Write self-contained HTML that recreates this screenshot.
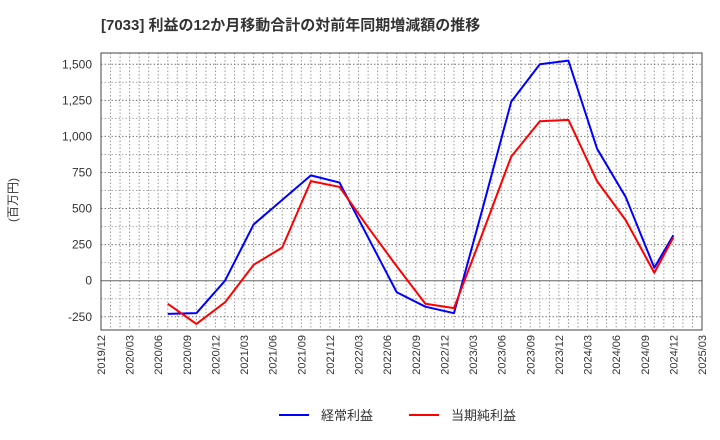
<!DOCTYPE html>
<html><head><meta charset="utf-8"><style>
body{margin:0;background:#fff;}
svg{display:block;font-family:"Liberation Sans","Noto Sans CJK JP",sans-serif;}
</style></head><body>
<svg id="c" width="720" height="440">
<text x="101" y="30" font-size="15" font-weight="bold" fill="#333">[7033]  利益の12か月移動合計の対前年同期増減額の推移</text>
<text transform="translate(17,200) rotate(-90)" text-anchor="middle" font-size="12" fill="#333">(百万円)</text>
<g id="grid"></g><g id="axes"></g><g id="series"></g>
<g>
<line x1="279" y1="415" x2="309" y2="415" stroke="#0000ff" stroke-width="2"/>
<text x="321" y="420" font-size="13" fill="#333">経常利益</text>
<line x1="409" y1="415" x2="439" y2="415" stroke="#ff0000" stroke-width="2"/>
<text x="451" y="420" font-size="13" fill="#333">当期純利益</text>
</g>
</svg>
<script>
const months=[7,10,13,16,19,22,25,28,31,34,37,40,43,46,49,52,55,58,60];
const ordinaryProfit=[-230,-225,0,390,560,730,680,300,-80,-180,-225,500,1240,1500,1525,915,580,90,315];
const netProfit=[-160,-300,-150,110,230,690,650,370,100,-160,-190,330,860,1105,1115,690,420,55,300];
const yTicks=[-250,0,250,500,750,1000,1250,1500];
const xTickLabels=["2019/12","2020/03","2020/06","2020/09","2020/12","2021/03","2021/06","2021/09","2021/12","2022/03","2022/06","2022/09","2022/12","2023/03","2023/06","2023/09","2023/12","2024/03","2024/06","2024/09","2024/12","2025/03"];
const L=101,R=702,T=53,B=330;
const X=m=>L+m*(R-L)/63;
const Y=v=>280.7-v*36.07/250;
const NS="http://www.w3.org/2000/svg";
function mk(tag,attrs,parent){const e=document.createElementNS(NS,tag);for(const k in attrs)e.setAttribute(k,attrs[k]);parent.appendChild(e);return e;}
const grid=document.getElementById('grid'),axes=document.getElementById('axes'),ser=document.getElementById('series');
for(let m=1;m<63;m++){const l=mk('line',{x1:X(m),x2:X(m),y1:T,y2:B,stroke:'#999','stroke-dasharray':'1.5,2','stroke-width':1},grid);

}
for(let v=-250;v<=1500;v+=125){if(v===0)continue;const l=mk('line',{x1:L,x2:R,y1:Y(v),y2:Y(v),stroke:v%250===0?'#777':'#aaa','stroke-dasharray':'1.5,2','stroke-width':1},grid);

}
const z=mk('line',{x1:L,x2:R,y1:Y(0),y2:Y(0),stroke:'#666','stroke-width':1},grid);


const fr=mk('rect',{x:L,y:T,width:R-L,height:B-T,fill:'none',stroke:'#444','stroke-width':1},axes);


yTicks.forEach(v=>{const t=mk('text',{x:L-9,y:Y(v)+4,'text-anchor':'end','font-size':12,fill:'#333'},axes);t.textContent=v.toLocaleString('en-US');

});
xTickLabels.forEach((s,i)=>{const x=X(i*3);const t=mk('text',{transform:`translate(${x+4},${B+5}) rotate(-90)`,'text-anchor':'end','font-size':11,fill:'#333'},axes);t.textContent=s;

});
function line(vals,color,name){const p=mk('polyline',{points:vals.map((v,i)=>X(months[i])+','+Y(v)).join(' '),fill:'none',stroke:color,'stroke-width':2,'stroke-linejoin':'round'},ser);

}
line(ordinaryProfit,'#0000ff','ordinary-profit-line');
line(netProfit,'#ff0000','net-profit-line');
</script>
</body></html>
